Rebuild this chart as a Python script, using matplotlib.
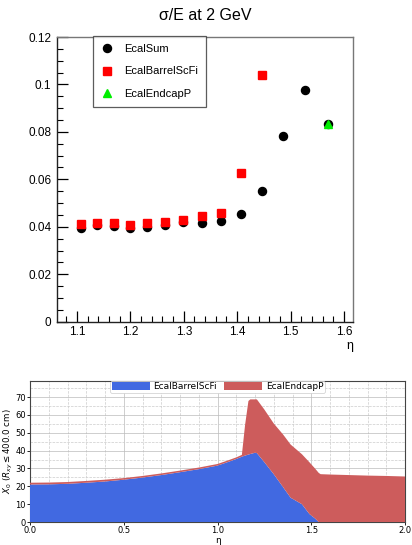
import matplotlib
matplotlib.use("Agg")
import matplotlib.pyplot as plt
from matplotlib.ticker import MultipleLocator, FuncFormatter
import numpy as np

# ---------------- top panel data ----------------
eta_sum = [1.107, 1.138, 1.169, 1.200, 1.231, 1.264, 1.299, 1.334, 1.370, 1.407, 1.447, 1.486, 1.527, 1.571]
res_sum = [0.0393, 0.0406, 0.0404, 0.0393, 0.0401, 0.0408, 0.0421, 0.0418, 0.0425, 0.0454, 0.0552, 0.0782, 0.0978, 0.0834]

eta_barrel = [1.107, 1.138, 1.169, 1.200, 1.231, 1.264, 1.299, 1.334, 1.370, 1.407, 1.447]
res_barrel = [0.0410, 0.0414, 0.0414, 0.0408, 0.0417, 0.0421, 0.0428, 0.0445, 0.0459, 0.0627, 0.1039]

eta_endcap = [1.571]
res_endcap = [0.0835]

# ---------------- bottom panel data ----------------
eta_x0 = [0.0, 0.1, 0.2, 0.3, 0.4, 0.5, 0.6, 0.7, 0.8, 0.9, 1.0, 1.05, 1.1, 1.13,
          1.147, 1.165, 1.175, 1.2, 1.21, 1.25, 1.3, 1.35, 1.39, 1.45, 1.49, 1.52,
          1.54, 1.55, 1.6, 1.7, 1.8, 1.9, 2.0]
x0_barrel = [21.0, 21.1, 21.4, 22.0, 22.7, 23.7, 24.9, 26.3, 27.9, 29.6, 31.6, 33.4, 35.3, 36.6,
             37.2, 37.8, 38.1, 38.8, 38.6, 33.5, 26.8, 19.5, 13.6, 10.0, 4.5, 2.0,
             0.0, 0.0, 0.0, 0.0, 0.0, 0.0, 0.0]
x0_endcap = [1.0, 1.0, 1.0, 1.0, 1.0, 0.9, 0.9, 0.9, 0.9, 0.9, 0.9, 0.9, 0.9, 1.0,
             17.1, 30.0, 30.6, 29.9, 30.1, 29.5, 28.4, 29.5, 29.8, 28.0, 29.0, 28.0,
             27.5, 26.8, 26.6, 26.3, 26.0, 25.8, 25.5]

FONT = "Liberation Sans"

fig = plt.figure(figsize=(4.12, 5.45), dpi=100)

# ================= top panel (ROOT style) =================
ax = fig.add_axes([57/412, 1 - 321.7/545, (353 - 57)/412, (321.7 - 37)/545])
ax.plot(eta_sum, res_sum, "o", color="black", markersize=5.8, label="EcalSum", zorder=3)
ax.plot(eta_barrel, res_barrel, "s", color="#ff0000", markersize=6.4, label="EcalBarrelScFi", zorder=4)
ax.plot(eta_endcap, res_endcap, "^", color="#00ee00", markersize=5.5, label="EcalEndcapP", zorder=5)

ax.set_xlim(1.0625, 1.617)
ax.set_ylim(0, 0.12)
ax.xaxis.set_major_locator(MultipleLocator(0.1))
ax.xaxis.set_minor_locator(MultipleLocator(0.02))
ax.yaxis.set_major_locator(MultipleLocator(0.02))
ax.yaxis.set_minor_locator(MultipleLocator(0.005))
ax.xaxis.set_major_formatter(FuncFormatter(lambda v, p: f"{v:.1f}"))
ax.yaxis.set_major_formatter(FuncFormatter(lambda v, p: "0" if abs(v) < 1e-9 else f"{v:g}"))
ax.tick_params(which="both", direction="in", top=False, right=False, color="black")
ax.tick_params(which="major", length=8, width=0.9, labelsize=8.5, pad=4)
ax.tick_params(axis="x", which="major", pad=3)
ax.tick_params(which="minor", length=4, width=0.8)
for lab in ax.get_xticklabels() + ax.get_yticklabels():
    lab.set_fontfamily(FONT)
for s in ["left", "bottom"]:
    ax.spines[s].set_color("#222222")
    ax.spines[s].set_linewidth(1.0)
for s in ["top", "right"]:
    ax.spines[s].set_color("#777777")
    ax.spines[s].set_linewidth(1.0)

ax.set_title("σ/E at 2 GeV", fontfamily=FONT, fontsize=11.5, pad=12)
ax.text(1.0, -0.066, "η", transform=ax.transAxes, ha="right", va="top",
        fontfamily=FONT, fontsize=9)

leg = ax.legend(loc="upper left", bbox_to_anchor=((93 - 57) / 296, 1.004),
                frameon=True, fancybox=False, edgecolor="#333333",
                prop={"family": FONT, "size": 8}, labelspacing=1.15,
                handletextpad=0.9, borderpad=0.7, handlelength=1.2,
                borderaxespad=0)
leg.get_frame().set_linewidth(0.9)

# ================= bottom panel (matplotlib style) =================
bx = fig.add_axes([30/412, 1 - 522/545, (405 - 30)/412, (522 - 381)/545])
bx.stackplot(eta_x0, x0_barrel, x0_endcap, colors=["royalblue", "indianred"],
             labels=["EcalBarrelScFi", "EcalEndcapP"], zorder=3)
bx.set_xlim(0, 2.0)
bx.set_ylim(0, 79)
bx.xaxis.set_major_locator(MultipleLocator(0.5))
bx.xaxis.set_minor_locator(MultipleLocator(0.1))
bx.yaxis.set_major_locator(MultipleLocator(10))
bx.yaxis.set_minor_locator(MultipleLocator(5))
bx.grid(True, which="major", color="#bbbbbb", linestyle="-", linewidth=0.5, zorder=0)
bx.grid(True, which="minor", color="#cccccc", linestyle="--", linewidth=0.5, zorder=0)
bx.set_axisbelow(True)
bx.tick_params(which="major", labelsize=6, length=2, width=0.6, pad=1)
bx.tick_params(which="minor", length=0)
for s in bx.spines.values():
    s.set_color("#444444")
    s.set_linewidth(0.8)
bx.set_xlabel("η", fontsize=6.5, labelpad=0.5)
bx.set_ylabel("$X_0$ ($R_{xy}\\leq400.0$ cm)", fontsize=6.2, labelpad=0)
bleg = bx.legend(loc="upper center", ncol=2, fontsize=6.5, borderaxespad=0,
                 handlelength=4.2, handleheight=0.9, columnspacing=0.8,
                 borderpad=0.15, handletextpad=0.4, fancybox=True, framealpha=1)
bleg.get_frame().set_linewidth(0.5)
bleg.set_zorder(5)

fig.savefig("out.png", dpi=100)
